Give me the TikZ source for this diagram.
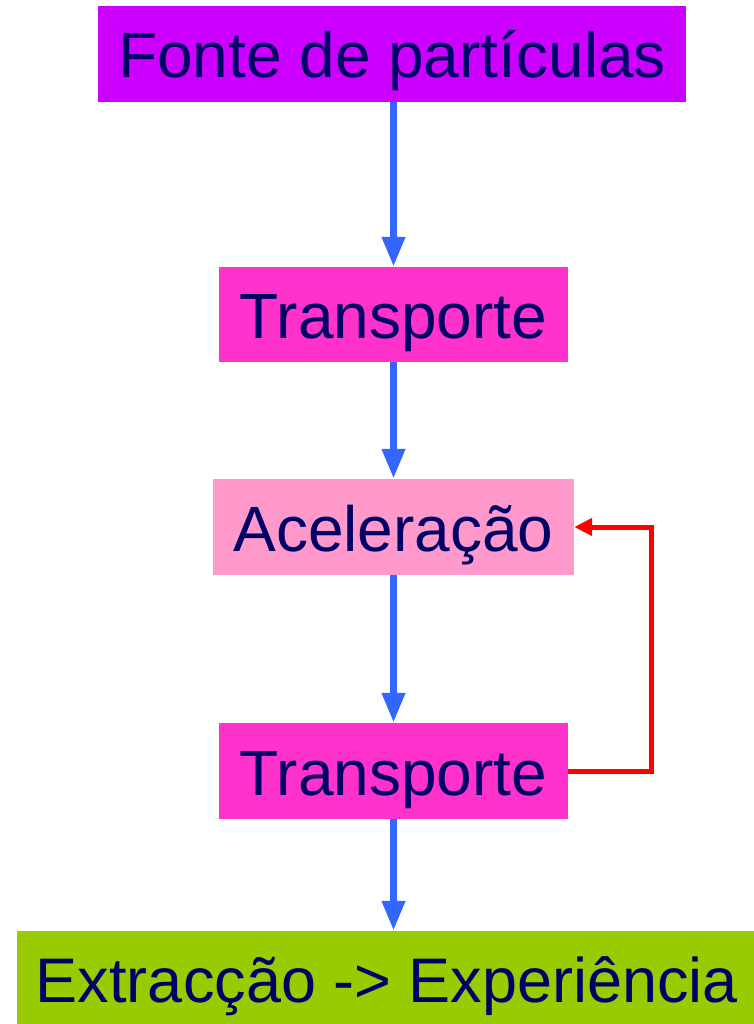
\documentclass[tikz,border=0pt]{standalone}
\usepackage{fontspec}
\setmainfont{Liberation Sans}
\usetikzlibrary{arrows.meta,calc}
\definecolor{inktext}{HTML}{000066}
\definecolor{srcbox}{HTML}{CC00FF}
\definecolor{trbox}{HTML}{FF33CC}
\definecolor{accbox}{HTML}{FF99CC}
\definecolor{expbox}{HTML}{99CC00}
\definecolor{flowblue}{HTML}{3366FF}
\definecolor{loopred}{HTML}{FF0000}
\tikzset{
  stage/.style={rectangle, inner sep=0pt, text=inktext,
    text height=48pt, text depth=0pt,
    font=\fontsize{64}{70}\selectfont},
  flow/.style={draw=flowblue, line width=7pt,
    -{Triangle[length=30pt,width=22pt]}},
  feedback/.style={draw=loopred, line width=5pt, line join=miter,
    -{Triangle[length=18pt,width=17pt]}}
}
\begin{document}
\begin{tikzpicture}[x=1pt,y=-1pt]
\useasboundingbox (0,0) rectangle (753,1024);
% stages of the beam line
\node[stage, fill=srcbox, minimum width=588pt, minimum height=96pt] (src) at (392,54) {Fonte de partículas};
\node[stage, fill=trbox, minimum width=349pt, minimum height=95pt] (tr1) at (393.5,314.5) {Transporte};
\node[stage, fill=accbox, minimum width=361pt, minimum height=96pt] (acc) at (393.5,527) {Aceleração};
\node[stage, fill=trbox, minimum width=349pt, minimum height=96pt] (tr2) at (393.5,771) {Transporte};
\node[stage, fill=expbox, minimum width=740pt, minimum height=94pt,
  font=\fontsize{63}{70}\selectfont] (exp) at (387,978) {Extracção -> Experiência};
% main flow
\draw[flow] (src.south -| tr1.north) -- (tr1.north);
\draw[flow] (tr1.south) -- (acc.north);
\draw[flow] (acc.south) -- (tr2.north);
\draw[flow] (tr2.south) -- (exp.north -| tr2.south);
% recirculation loop
\coordinate (loop) at ($(acc.east)+(77,0)$);
\draw[feedback] (tr2.east) -| (loop) -- (acc.east);
\end{tikzpicture}
\end{document}
